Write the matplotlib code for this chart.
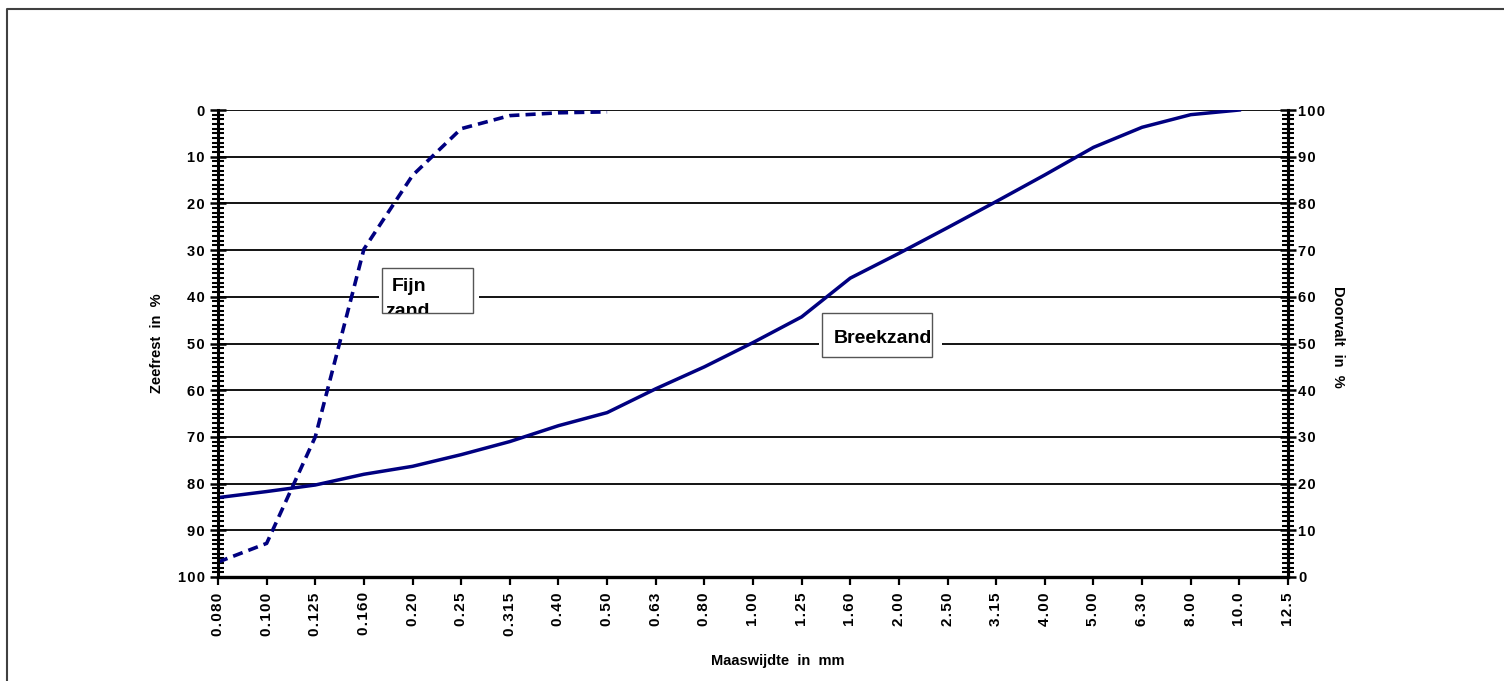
import matplotlib
matplotlib.use("Agg")
import matplotlib.pyplot as plt
from matplotlib.patches import Rectangle
from matplotlib.lines import Line2D
from matplotlib.ticker import MultipleLocator, FixedLocator
import numpy as np

plt.rcParams['font.family'] = ['Liberation Sans', 'DejaVu Sans']

# Sieve sizes (mm)
sieves = ["0.080", "0.100", "0.125", "0.160", "0.20", "0.25", "0.315", "0.40",
          "0.50", "0.63", "0.80", "1.00", "1.25", "1.60", "2.00", "2.50",
          "3.15", "4.00", "5.00", "6.30", "8.00", "10.0", "12.5"]

# Residue on sieve (%) per sieve size
breekzand = [83.0, 81.7, 80.3, 78.0, 76.3, 73.8, 71.0, 67.6, 64.8, 59.7, 55.0,
             49.8, 44.3, 36.0, 30.7, 25.2, 19.6, 13.9, 8.0, 3.7, 1.0, 0.0, None]
fijn_zand = [96.8, 92.8, 70.0, 29.8, 14.0, 4.0, 1.2, 0.6, 0.4,
             None, None, None, None, None, None, None, None, None, None, None,
             None, None, None]

left_ticks = list(range(0, 101, 10))
right_ticks = list(range(0, 101, 10))

NAVY = "#000080"
W, H = 1504, 681


def spaced(s):
    return "\u200a".join(s)


def series(vals):
    return np.array([np.nan if v is None else v for v in vals], dtype=float)


fig = plt.figure(figsize=(W / 100, H / 100), dpi=100)
ax = fig.add_axes([218 / W, 1 - 577 / H, (1288 - 218) / W, (577 - 110) / H])

x = np.arange(len(sieves))
ax.plot(x, series(breekzand), color=NAVY, lw=2.5, solid_joinstyle='miter', zorder=4)
ax.plot(x, series(fijn_zand), color=NAVY, lw=2.6, dashes=(2.8, 1.7),
        dash_capstyle='butt', zorder=4)

ax.set_xlim(0, len(sieves) - 1)
ax.set_ylim(100, 0)

# horizontal grid at every 10 %
for v in left_ticks:
    ax.axhline(v, color='black', lw=1.3, zorder=1)

ax.spines['top'].set_visible(False)
ax.spines['left'].set_linewidth(2.2)
ax.spines['right'].set_linewidth(2.2)
ax.spines['bottom'].set_linewidth(2.4)
for s in ax.spines.values():
    s.set_zorder(5)

Y_FONT = dict(fontsize=10.5, fontweight='bold')
X_FONT = dict(fontsize=11, fontweight='bold')

# x axis: categories
ax.xaxis.set_major_locator(FixedLocator(x))
ax.set_xticklabels([spaced(s) for s in sieves], rotation=90, va='top',
                   ha='center', **X_FONT)
ax.tick_params(axis='x', direction='out', length=6, width=1.6, pad=5)

# left axis: residue
ax.yaxis.set_major_locator(FixedLocator(left_ticks))
ax.yaxis.set_minor_locator(MultipleLocator(1))
ax.set_yticklabels([spaced(str(v)) for v in left_ticks], **Y_FONT)
ax.tick_params(axis='y', which='major', direction='inout', length=11,
               width=1.8, pad=4)
ax.tick_params(axis='y', which='minor', direction='inout', length=8,
               width=1.5)

# right axis: passing
ax2 = ax.twinx()
ax2.set_ylim(0, 100)
ax2.yaxis.set_major_locator(FixedLocator(right_ticks))
ax2.yaxis.set_minor_locator(MultipleLocator(1))
ax2.set_yticklabels([spaced(str(v)) for v in right_ticks], **Y_FONT)
ax2.tick_params(axis='y', which='major', direction='inout', length=11,
                width=1.8, pad=2)
ax2.tick_params(axis='y', which='minor', direction='inout', length=8,
                width=1.5)
for side in ('top', 'left', 'bottom'):
    ax2.spines[side].set_visible(False)
ax2.spines['right'].set_linewidth(2.2)

# axis titles
fig.text(157 / W, 1 - 343 / H, "Zeefrest  in  %", rotation=90, ha='center',
         va='center', fontsize=10.5, fontweight='bold')
fig.text(1338 / W, 1 - 337 / H, "Doorvalt  in  %", rotation=-90, ha='center',
         va='center', fontsize=10.5, fontweight='bold')
fig.text(778 / W, 1 - 661 / H, "Maaswijdte  in  mm", ha='center',
         va='center', fontsize=10.5, fontweight='bold')


def px_x(p):
    return (p - 218) / ((1288 - 218) / (len(sieves) - 1))


def px_y(p):
    return (p - 110) / ((577 - 110) / 100)


def label_box(x0, x1, y0, y1, gx0, gx1, lines):
    # white gap in the grid around the box
    ax.add_patch(Rectangle((px_x(gx0), px_y(y1)), px_x(gx1) - px_x(gx0),
                           px_y(y0) - px_y(y1), facecolor='white',
                           edgecolor='none', zorder=2))
    box = Rectangle((px_x(x0), px_y(y1)), px_x(x1) - px_x(x0),
                    px_y(y0) - px_y(y1), facecolor='white',
                    edgecolor='#555555', lw=1.0, zorder=6)
    ax.add_patch(box)
    for tx, ty, s in lines:
        t = ax.text(px_x(tx), px_y(ty), s, ha='left', va='baseline',
                    fontsize=14, fontweight='bold', zorder=7)
        t.set_clip_on(True)
        t.set_clip_path(box)


label_box(381.7, 472.7, 267.7, 313.3, 379, 479,
          [(392, 291, "Fijn"), (385, 315.5, "zand")])
label_box(821.7, 932.3, 312.7, 357.3, 819, 941.7,
          [(834, 343.3, "Breekzand")])

# outer frame
fig.add_artist(Line2D([7 / W, 7 / W, 1.0], [0.0, 1 - 9 / H, 1 - 9 / H],
                      transform=fig.transFigure, color='#404040', lw=1.5))

fig.savefig("out.png", dpi=100)
